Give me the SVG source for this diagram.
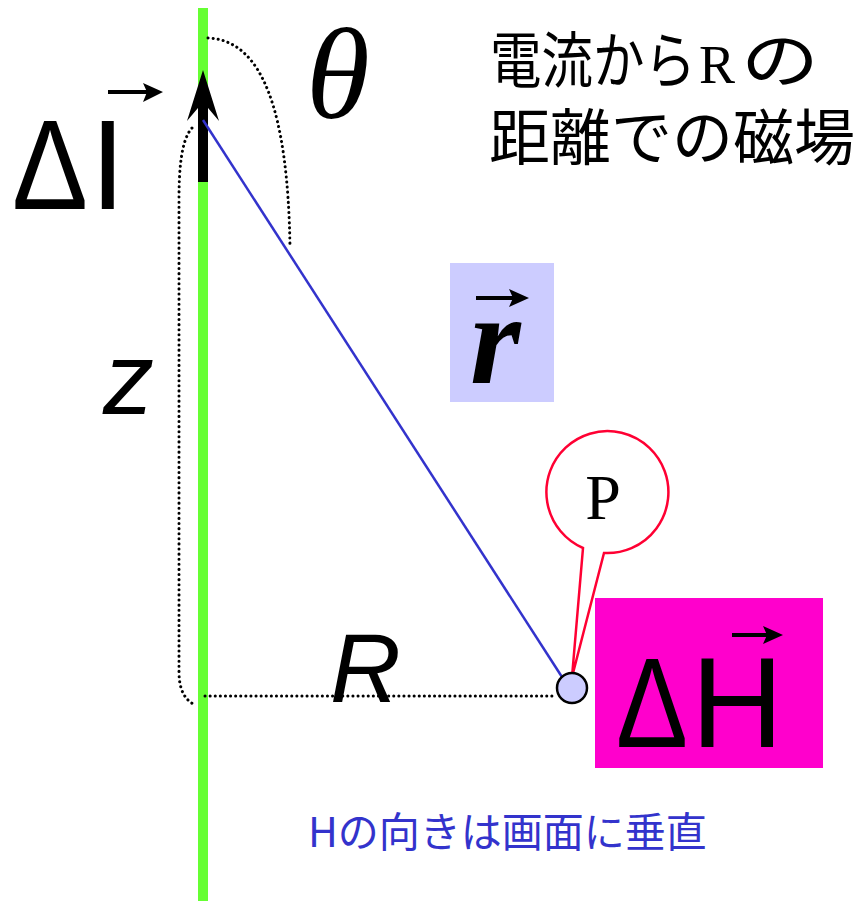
<svg xmlns="http://www.w3.org/2000/svg" width="864" height="901" viewBox="0 0 864 901">
<style>
.dot{fill:none;stroke:#000;stroke-width:3;stroke-dasharray:0.1 5;stroke-linecap:round}
.sans{font-family:"Liberation Sans",Arial,sans-serif}
.serif{font-family:"Liberation Serif","Times New Roman",serif}
.jp{font-family:"Noto Sans CJK JP","Noto Sans CJK SC",sans-serif}
.vec{stroke:#000;stroke-width:4}
.head{fill:#000}
</style>
<rect width="864" height="901" fill="#fff"/>
<g id="wire">
<rect x="198" y="8" width="10" height="893" fill="#66ff33"/>
</g>
<g id="current-element">
<rect x="198" y="100" width="10" height="82" fill="#000"/>
<path d="M203,70 L219,121 L203,102 L187,121 Z" fill="#000"/>
</g>
<g id="connectors">
<path class="dot" d="M208,38 C262,40 288,110 290,248"/>
<path class="dot" d="M192,128 C181,140 179,170 179,200 L179,672 C179,690 185,700 195,705"/>
<path class="dot" d="M205,696 L556,696"/>
<line x1="203" y1="120" x2="562" y2="677" stroke="#3333cc" stroke-width="2.5"/>
</g>
<g id="label-dI">
<text class="sans" x="12" y="209" font-size="128" textLength="76" lengthAdjust="spacingAndGlyphs">Δ</text>
<text class="sans" x="90" y="209" font-size="128">I</text>
<line class="vec" x1="108" y1="92" x2="148" y2="92"/>
<path class="head" d="M143,83 L163,92 L143,102 L147,92 Z"/>
</g>
<g id="label-theta">
<text class="serif" x="306" y="118" font-size="130" font-style="italic">θ</text>
</g>
<g id="title">
<text class="jp" x="490" y="83" font-size="61" textLength="206" lengthAdjust="spacingAndGlyphs">電流から</text>
<text class="serif" x="699" y="83" font-size="54">R</text>
<text class="jp" x="741" y="83" font-size="61" textLength="78" lengthAdjust="spacingAndGlyphs">の</text>
<text class="jp" x="489" y="160" font-size="61">距離での磁場</text>
</g>
<g id="label-r">
<rect x="450" y="263" width="104" height="139" fill="#ccccff"/>
<text class="serif" x="470" y="383" font-size="130" font-style="italic" font-weight="bold">r</text>
<line class="vec" x1="476" y1="298" x2="514" y2="298"/>
<path class="head" d="M509,289 L529,298 L509,307 L513,298 Z"/>
</g>
<g id="label-z">
<text class="sans" x="103" y="414" font-size="102" font-style="italic">z</text>
</g>
<g id="label-R">
<text class="sans" x="330" y="702" font-size="98" font-style="italic">R</text>
</g>
<g id="point-P">
<path d="M583,548 A61,61 0 1 1 604,553 L572,677 Z" fill="#fff" stroke="#ff0033" stroke-width="2.5" stroke-linejoin="miter"/>
<text class="serif" x="603" y="519" font-size="64" text-anchor="middle">P</text>
<circle cx="572" cy="688" r="15" fill="#ccccff" stroke="#000" stroke-width="2.5"/>
</g>
<g id="label-dH">
<rect x="595" y="598" width="228" height="170" fill="#ff00cc"/>
<text class="sans" x="616" y="747" font-size="128" textLength="72" lengthAdjust="spacingAndGlyphs">Δ</text>
<text class="sans" x="691" y="747" font-size="128">H</text>
<line class="vec" x1="732" y1="635" x2="768" y2="635"/>
<path class="head" d="M763,626 L783,635 L763,644 L767,635 Z"/>
</g>
<g id="note">
<text class="jp" x="308" y="847" font-size="41" fill="#3333cc">Hの向きは画面に垂直</text>
</g>
</svg>
